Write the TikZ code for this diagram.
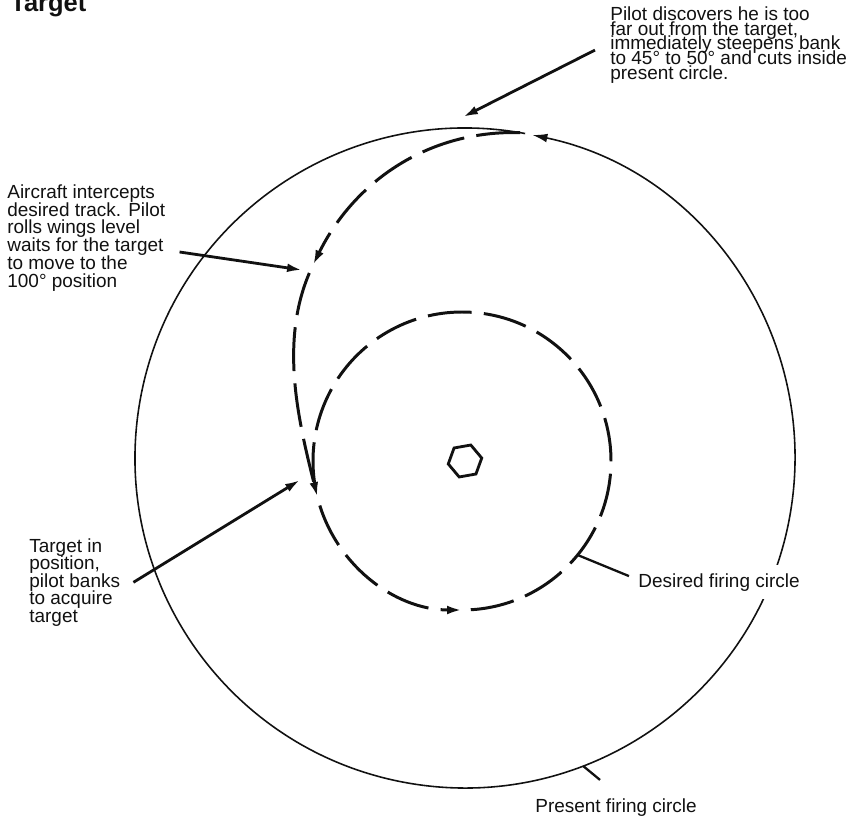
\documentclass[tikz,border=0pt]{standalone}
\usepackage{fontspec}
\setmainfont{Liberation Sans}
\usepackage{tikz}
\usetikzlibrary{arrows.meta,calc,shapes.geometric}
\definecolor{ink}{HTML}{111111}
\newcommand\notesize[1]{\fontsize{10.8}{#1}\selectfont\lineskiplimit=-100pt\relax}

\begin{document}
\begin{tikzpicture}[x=0.02cm,y=0.02cm,>={Latex[length=8.5pt,width=5pt]},
  note/.style={align=left,inner sep=0pt,text=ink,font=\notesize{8.5}},
  rim/.style={ink,line width=0.9pt},
  track/.style={ink,line width=1.7pt,dash pattern=on 25pt off 7pt},
  pointer/.style={ink,line width=1.6pt,->},
  leader/.style={ink,line width=1.3pt}]
  \useasboundingbox (0,0) rectangle (863,-818);
  \coordinate (big) at (465,-458);
  \coordinate (ring) at (462,-461);
  \coordinate (depart) at ([shift={(80.4:330)}]big);
  \coordinate (turn1) at (313,-265);
  \coordinate (turn2) at ([shift={(194:149)}]ring);
  \coordinate (cutin) at (463,-117);
  \coordinate (intrack) at (302,-270);
  \coordinate (inpos) at (300,-480);

  \node[anchor=base west,inner sep=0pt,text=ink,font=\fontsize{14.5}{17}\selectfont\bfseries] (title) at (10,-11.5) {Target};

  \draw[rim,->] ([shift={(79.5:330)}]big) arc[start angle=79.5,end angle=438.2,radius=330];
  \node[draw=ink,line width=1.6pt,regular polygon,regular polygon sides=6,
    minimum size=0.68cm,inner sep=0pt,rotate=10] (tgt) at (465,-461) {};

  \draw[track,->] (depart) .. controls (430,-130) and (355,-180) .. (turn1);
  \draw[track,dash phase=27pt,->] (turn1) .. controls (278,-337) and (298,-419) .. (turn2);
  \draw[track,dash phase=27pt,->] (turn2) arc[start angle=194,end angle=270,radius=149];
  \draw[track,dash phase=27pt] ([shift={(270:149)}]ring) arc[start angle=270,end angle=553,radius=149];

  \node[note,anchor=north west] (discover) at (610,-6)
    {Pilot discovers he is too\\far out from the target,\\immediately steepens bank\\to 45° to 50° and cuts inside\\present circle.};
  \node[note,anchor=north west,font=\notesize{10.2}] (intercept) at (7,-184)
    {Aircraft intercepts\\desired track. Pilot\\rolls wings level\\waits for the target\\to move to the\\100° position};
  \node[note,anchor=north west,font=\notesize{10}] (acquire) at (29,-538)
    {Target in\\position,\\pilot banks\\to acquire\\target};
  \node[note,anchor=base west,fill=white,inner ysep=4.5pt] (desired) at (638,-587) {Desired firing circle};
  \node[note,anchor=base west] (present) at (535,-812) {Present firing circle};

  \draw[pointer] ([shift={(-15,-5)}]discover.west) -- (cutin);
  \draw[pointer] ([shift={(14,-14)}]intercept.east) -- (intrack);
  \draw[pointer] ([shift={(13,0)}]acquire.east) -- (inpos);
  \draw[leader] ([shift={(-39:150)}]ring) -- ([shift={(-9,6)}]desired.west);
  \draw[leader] ([shift={(-69:330)}]big) -- ([shift={(-16,18)}]present.north);
\end{tikzpicture}
\end{document}
